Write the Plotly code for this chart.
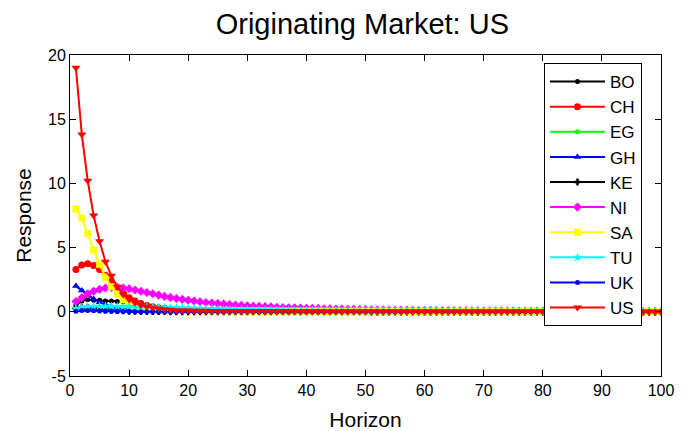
import plotly.graph_objects as go

horizon = list(range(1, 101))

BO = [0.5, 0.85, 0.95, 0.9, 0.9, 0.85, 0.85, 0.8, 0.8, 0.78,
      0.7, 0.6, 0.5, 0.4, 0.32, 0.25, 0.2, 0.16, 0.13, 0.1,
      0.09, 0.08, 0.07, 0.07, 0.06, 0.06, 0.05, 0.05, 0.05, 0.04,
      0.04, 0.04, 0.04, 0.03, 0.03, 0.03, 0.03, 0.03, 0.03, 0.02,
      0.02, 0.02, 0.02, 0.02, 0.02, 0.02, 0.02, 0.02, 0.02, 0.02,
      0.02, 0.02, 0.01, 0.01, 0.01, 0.01, 0.01, 0.01, 0.01, 0.01,
      0.01, 0.01, 0.01, 0.01, 0.01, 0.01, 0.01, 0.01, 0.01, 0.01,
      0.01, 0.01, 0.01, 0.01, 0.01, 0.01, 0.01, 0.01, 0.01, 0.01,
      0.01, 0.01, 0.01, 0.01, 0.01, 0.0, 0.0, 0.0, 0.0, 0.0,
      0.0, 0.0, 0.0, 0.0, 0.0, 0.0, 0.0, 0.0, 0.0, 0.0]

CH = [3.3, 3.65, 3.75, 3.6, 3.3, 2.85, 2.35, 1.85, 1.45, 1.1,
      0.85, 0.65, 0.5, 0.4, 0.32, 0.26, 0.22, 0.19, 0.16, 0.14,
      0.13, 0.12, 0.11, 0.1, 0.1, 0.09, 0.09, 0.08, 0.08, 0.08,
      0.07, 0.07, 0.07, 0.07, 0.07, 0.06, 0.06, 0.06, 0.06, 0.06,
      0.06, 0.05, 0.05, 0.05, 0.05, 0.05, 0.05, 0.05, 0.05, 0.05,
      0.04, 0.04, 0.04, 0.04, 0.04, 0.04, 0.04, 0.04, 0.04, 0.04,
      0.04, 0.04, 0.04, 0.04, 0.03, 0.03, 0.03, 0.03, 0.03, 0.03,
      0.03, 0.03, 0.03, 0.03, 0.03, 0.03, 0.03, 0.03, 0.03, 0.03,
      0.03, 0.03, 0.03, 0.03, 0.03, 0.03, 0.03, 0.03, 0.03, 0.03,
      0.03, 0.03, 0.03, 0.03, 0.03, 0.03, 0.03, 0.03, 0.03, 0.03]

EG = [0.1, 0.15, 0.15, 0.13, 0.1, 0.08, 0.06, 0.05, 0.04, 0.03,
      0.02, 0.02, 0.01, 0.01, 0.01, 0.0, 0.0, 0.0, 0.0, 0.0,
      -0.01, -0.01, -0.01, -0.01, -0.01, -0.01, -0.01, -0.01, -0.01, -0.01,
      -0.01, -0.01, -0.01, -0.01, -0.01, -0.01, -0.01, -0.01, -0.01, -0.01,
      -0.01, -0.01, -0.01, -0.01, -0.01, -0.01, -0.01, -0.01, -0.01, -0.01,
      -0.01, -0.01, -0.01, -0.01, -0.01, -0.01, -0.01, -0.01, -0.01, -0.01,
      -0.01, -0.01, -0.01, -0.01, -0.01, -0.01, -0.01, -0.01, -0.01, -0.01,
      -0.01, -0.01, -0.01, -0.01, -0.01, -0.01, -0.01, -0.01, -0.01, -0.01,
      -0.01, -0.01, -0.01, -0.01, -0.01, -0.01, -0.01, -0.01, -0.01, -0.01,
      -0.01, -0.01, -0.01, -0.01, -0.01, -0.01, -0.01, -0.01, -0.01, -0.01]

GH = [2.0, 1.65, 1.3, 1.0, 0.75, 0.55, 0.4, 0.29, 0.21, 0.15,
      0.11, 0.08, 0.06, 0.05, 0.04, 0.03, 0.03, 0.02, 0.02, 0.02,
      0.02, 0.01, 0.01, 0.01, 0.01, 0.01, 0.01, 0.01, 0.01, 0.01,
      0.01, 0.01, 0.01, 0.01, 0.01, 0.0, 0.0, 0.0, 0.0, 0.0,
      0.0, 0.0, 0.0, 0.0, 0.0, 0.0, 0.0, 0.0, 0.0, 0.0,
      0.0, 0.0, 0.0, 0.0, 0.0, 0.0, 0.0, 0.0, 0.0, 0.0,
      0.0, 0.0, 0.0, 0.0, 0.0, 0.0, 0.0, 0.0, 0.0, 0.0,
      0.0, 0.0, 0.0, 0.0, 0.0, 0.0, 0.0, 0.0, 0.0, 0.0,
      0.0, 0.0, 0.0, 0.0, 0.0, 0.0, 0.0, 0.0, 0.0, 0.0,
      0.0, 0.0, 0.0, 0.0, 0.0, 0.0, 0.0, 0.0, 0.0, 0.0]

KE = [0.3, 0.35, 0.32, 0.27, 0.22, 0.17, 0.13, 0.1, 0.08, 0.06,
      0.05, 0.04, 0.04, 0.03, 0.03, 0.03, 0.02, 0.02, 0.02, 0.02,
      0.02, 0.02, 0.02, 0.01, 0.01, 0.01, 0.01, 0.01, 0.01, 0.01,
      0.01, 0.01, 0.01, 0.01, 0.01, 0.01, 0.01, 0.01, 0.01, 0.01,
      0.01, 0.01, 0.01, 0.01, 0.01, 0.01, 0.01, 0.01, 0.01, 0.01,
      0.0, 0.0, 0.0, 0.0, 0.0, 0.0, 0.0, 0.0, 0.0, 0.0,
      0.0, 0.0, 0.0, 0.0, 0.0, 0.0, 0.0, 0.0, 0.0, 0.0,
      0.0, 0.0, 0.0, 0.0, 0.0, 0.0, 0.0, 0.0, 0.0, 0.0,
      0.0, 0.0, 0.0, 0.0, 0.0, 0.0, 0.0, 0.0, 0.0, 0.0,
      0.0, 0.0, 0.0, 0.0, 0.0, 0.0, 0.0, 0.0, 0.0, 0.0]

NI = [0.8, 1.1, 1.4, 1.6, 1.75, 1.85, 1.9, 1.9, 1.85, 1.8,
      1.7, 1.6, 1.5, 1.4, 1.3, 1.2, 1.12, 1.04, 0.97, 0.9,
      0.84, 0.78, 0.73, 0.68, 0.64, 0.6, 0.56, 0.53, 0.5, 0.47,
      0.44, 0.42, 0.4, 0.38, 0.36, 0.34, 0.32, 0.31, 0.29, 0.28,
      0.27, 0.25, 0.24, 0.23, 0.22, 0.21, 0.2, 0.19, 0.18, 0.17,
      0.16, 0.16, 0.15, 0.14, 0.14, 0.13, 0.13, 0.12, 0.12, 0.11,
      0.11, 0.1, 0.1, 0.1, 0.09, 0.09, 0.09, 0.08, 0.08, 0.08,
      0.08, 0.07, 0.07, 0.07, 0.07, 0.06, 0.06, 0.06, 0.06, 0.06,
      0.05, 0.05, 0.05, 0.05, 0.05, 0.05, 0.05, 0.04, 0.04, 0.04,
      0.04, 0.04, 0.04, 0.04, 0.04, 0.04, 0.03, 0.03, 0.03, 0.03]

SA = [8.0, 7.3, 6.1, 4.8, 3.7, 2.7, 1.95, 1.4, 0.95, 0.65,
      0.45, 0.33, 0.25, 0.2, 0.17, 0.15, 0.13, 0.12, 0.11, 0.1,
      0.1, 0.09, 0.09, 0.09, 0.08, 0.08, 0.08, 0.08, 0.07, 0.07,
      0.07, 0.07, 0.07, 0.07, 0.06, 0.06, 0.06, 0.06, 0.06, 0.06,
      0.06, 0.06, 0.05, 0.05, 0.05, 0.05, 0.05, 0.05, 0.05, 0.05,
      0.05, 0.05, 0.05, 0.05, 0.05, 0.04, 0.04, 0.04, 0.04, 0.04,
      0.04, 0.04, 0.04, 0.04, 0.04, 0.04, 0.04, 0.04, 0.04, 0.04,
      0.04, 0.04, 0.04, 0.04, 0.04, 0.03, 0.03, 0.03, 0.03, 0.03,
      0.03, 0.03, 0.03, 0.03, 0.03, 0.03, 0.03, 0.03, 0.03, 0.03,
      0.03, 0.03, 0.03, 0.03, 0.03, 0.03, 0.03, 0.03, 0.03, 0.03]

TU = [0.25, 0.35, 0.4, 0.42, 0.44, 0.44, 0.43, 0.42, 0.41, 0.4,
      0.39, 0.38, 0.37, 0.36, 0.35, 0.34, 0.33, 0.32, 0.31, 0.3,
      0.28, 0.26, 0.25, 0.23, 0.22, 0.2, 0.19, 0.18, 0.17, 0.16,
      0.15, 0.14, 0.14, 0.13, 0.13, 0.12, 0.12, 0.11, 0.11, 0.1,
      0.1, 0.1, 0.1, 0.1, 0.09, 0.09, 0.09, 0.09, 0.09, 0.09,
      0.08, 0.08, 0.08, 0.08, 0.08, 0.08, 0.08, 0.08, 0.08, 0.08,
      0.07, 0.07, 0.07, 0.07, 0.07, 0.07, 0.07, 0.07, 0.07, 0.07,
      0.07, 0.07, 0.07, 0.07, 0.07, 0.06, 0.06, 0.06, 0.06, 0.06,
      0.06, 0.06, 0.06, 0.06, 0.06, 0.06, 0.06, 0.06, 0.06, 0.06,
      0.06, 0.06, 0.06, 0.06, 0.06, 0.06, 0.06, 0.06, 0.06, 0.06]

UK = [0.05, 0.1, 0.1, 0.08, 0.06, 0.05, 0.04, 0.03, 0.02, 0.02,
      0.01, 0.01, 0.01, 0.01, 0.01, 0.01, 0.01, 0.01, 0.01, 0.01,
      0.0, 0.0, 0.0, 0.0, 0.0, 0.0, 0.0, 0.0, 0.0, 0.0,
      0.0, 0.0, 0.0, 0.0, 0.0, 0.0, 0.0, 0.0, 0.0, 0.0,
      0.0, 0.0, 0.0, 0.0, 0.0, 0.0, 0.0, 0.0, 0.0, 0.0,
      0.0, 0.0, 0.0, 0.0, 0.0, 0.0, 0.0, 0.0, 0.0, 0.0,
      0.0, 0.0, 0.0, 0.0, 0.0, 0.0, 0.0, 0.0, 0.0, 0.0,
      0.0, 0.0, 0.0, 0.0, 0.0, 0.0, 0.0, 0.0, 0.0, 0.0,
      0.0, 0.0, 0.0, 0.0, 0.0, 0.0, 0.0, 0.0, 0.0, 0.0,
      0.0, 0.0, 0.0, 0.0, 0.0, 0.0, 0.0, 0.0, 0.0, 0.0]

US = [19.0, 13.8, 10.2, 7.5, 5.5, 3.9, 2.8, 1.95, 1.35, 0.95,
      0.7, 0.52, 0.4, 0.31, 0.25, 0.2, 0.16, 0.13, 0.11, 0.1,
      0.09, 0.08, 0.08, 0.07, 0.07, 0.06, 0.06, 0.06, 0.05, 0.05,
      0.05, 0.05, 0.05, 0.04, 0.04, 0.04, 0.04, 0.04, 0.04, 0.04,
      0.04, 0.04, 0.03, 0.03, 0.03, 0.03, 0.03, 0.03, 0.03, 0.03,
      0.03, 0.03, 0.03, 0.03, 0.03, 0.03, 0.02, 0.02, 0.02, 0.02,
      0.02, 0.02, 0.02, 0.02, 0.02, 0.02, 0.02, 0.02, 0.02, 0.02,
      0.02, 0.02, 0.02, 0.02, 0.02, 0.02, 0.02, 0.02, 0.02, 0.02,
      0.02, 0.02, 0.02, 0.02, 0.02, 0.01, 0.01, 0.01, 0.01, 0.01,
      0.01, 0.01, 0.01, 0.01, 0.01, 0.01, 0.01, 0.01, 0.01, 0.01]

series_names = ["BO", "CH", "EG", "GH", "KE", "NI", "SA", "TU", "UK", "US"]
series_values = [BO, CH, EG, GH, KE, NI, SA, TU, UK, US]
series_colors = ["#000000", "#ff0000", "#00ff00", "#0000ff", "#000000",
                 "#ff00ff", "#ffff00", "#00ffff", "#0000ff", "#ff0000"]
series_symbols = ["circle", "circle", "circle", "triangle-up", "cross",
                  "diamond", "square", "star", "circle", "triangle-down"]
series_sizes = [5, 7, 5, 7, 6, 7, 7, 7, 5, 8]

x_ticks = [0, 10, 20, 30, 40, 50, 60, 70, 80, 90, 100]
y_ticks = [-5, 0, 5, 10, 15, 20]
y_tick_labels = ["-5", "0", "5", "10", "15", "20"]

fig = go.Figure()
for name, vals, col, sym, sz in zip(series_names, series_values, series_colors,
                                    series_symbols, series_sizes):
    fig.add_trace(go.Scatter(
        x=horizon, y=vals, name=name, legendgroup=name, mode="lines+markers",
        line=dict(color=col, width=2),
        marker=dict(color=col, symbol=sym, size=sz, line=dict(width=0)),
    ))

axis_common = dict(
    showline=True, linecolor="black", linewidth=1, mirror="ticks",
    ticks="inside", ticklen=6, tickcolor="black", showgrid=False,
    zeroline=False, tickfont=dict(size=16, color="black"), automargin=False,
)

fig.update_layout(
    width=685, height=431,
    margin=dict(l=70, r=24, t=55, b=55),
    paper_bgcolor="white", plot_bgcolor="white",
    font=dict(family="Arial, Liberation Sans, sans-serif", color="black"),
    title=dict(text="Originating Market: US", x=0.529, xanchor="center",
               y=0.945, yanchor="middle", font=dict(size=29, color="black")),
    xaxis=dict(range=[0, 100], tickvals=x_ticks,
               title=dict(text="Horizon", font=dict(size=21), standoff=14),
               **axis_common),
    yaxis=dict(range=[-5, 20], tickvals=y_ticks, ticktext=y_tick_labels,
               title=dict(text="Response", font=dict(size=21), standoff=10),
               **axis_common),
    legend=dict(x=0.802, y=0.975, xanchor="left", yanchor="top",
                bgcolor="white", bordercolor="black", borderwidth=1,
                font=dict(size=17, color="black"), itemwidth=55,
                tracegroupgap=1, traceorder="normal"),
    showlegend=True,
)

fig.write_html("out.html")
